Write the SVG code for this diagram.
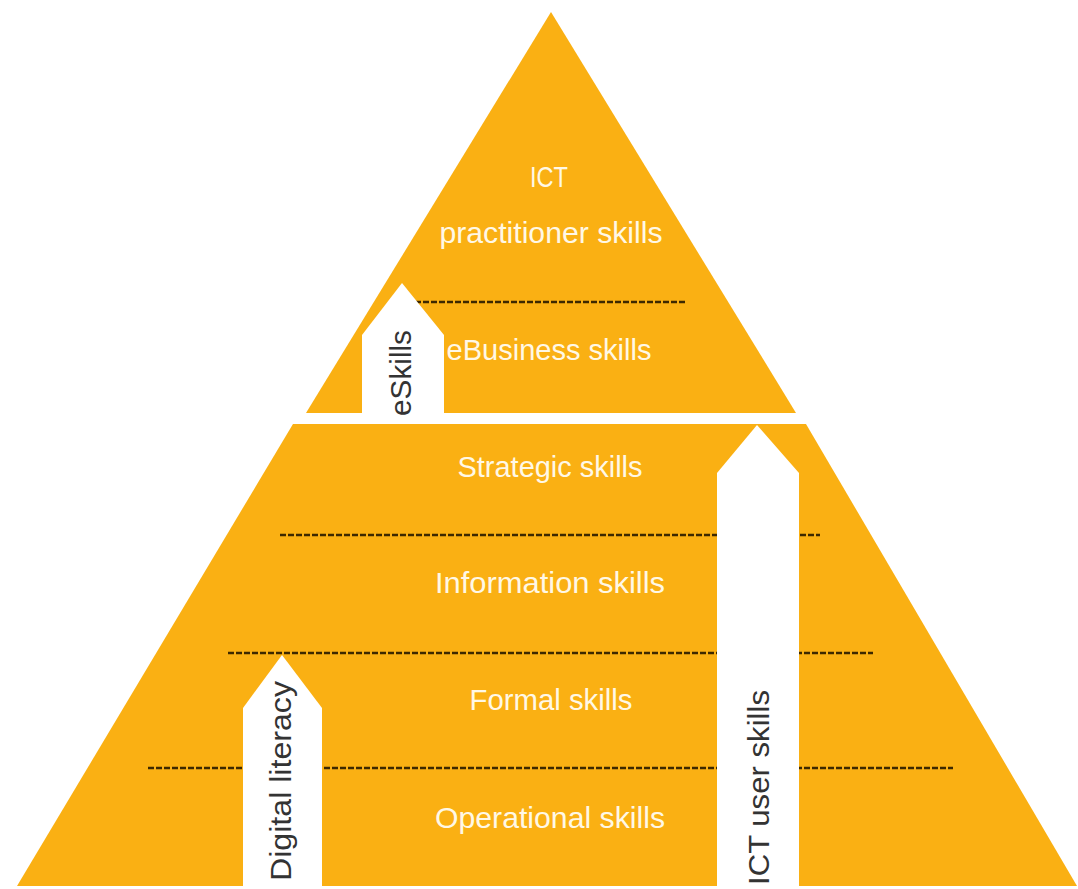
<svg xmlns="http://www.w3.org/2000/svg" width="1078" height="889" viewBox="0 0 1078 889">
<style>
.band{fill:#FAB013}
.arrow{fill:#FFFFFF}
.dash{stroke:#3d2800;stroke-width:2.5;stroke-dasharray:6 2;fill:none}
.lbl{font-family:"Liberation Sans",Arial,sans-serif;font-size:30px;fill:#FFF8E6;text-anchor:middle}
.vlbl{font-family:"Liberation Sans",Arial,sans-serif;font-size:29px;fill:#333333}
</style>
<rect width="1078" height="889" fill="#FFFFFF"/>
<g id="upper-triangle">
<polygon class="band" points="551,12 796,413 306,413"/>
</g>
<g id="lower-trapezoid">
<polygon class="band" points="293,424 806,424 1077,886 17,886"/>
</g>
<g id="connectors">
<line class="dash" x1="415" y1="302" x2="687" y2="302"/>
<line class="dash" x1="280" y1="535" x2="820" y2="535"/>
<line class="dash" x1="228" y1="653" x2="873" y2="653"/>
<line class="dash" x1="148" y1="768" x2="953" y2="768"/>
</g>
<g id="ict-practitioner">
<text class="lbl" x="549" y="187" textLength="38" lengthAdjust="spacingAndGlyphs">ICT</text>
<text class="lbl" x="551" y="243" textLength="223" lengthAdjust="spacingAndGlyphs">practitioner skills</text>
</g>
<g id="ebusiness">
<text class="lbl" x="549" y="360" textLength="205" lengthAdjust="spacingAndGlyphs">eBusiness skills</text>
</g>
<g id="strategic">
<text class="lbl" x="550" y="477" textLength="185" lengthAdjust="spacingAndGlyphs">Strategic skills</text>
</g>
<g id="information">
<text class="lbl" x="550" y="593" textLength="230" lengthAdjust="spacingAndGlyphs">Information skills</text>
</g>
<g id="formal">
<text class="lbl" x="551" y="710" textLength="163" lengthAdjust="spacingAndGlyphs">Formal skills</text>
</g>
<g id="operational">
<text class="lbl" x="550" y="828" textLength="230" lengthAdjust="spacingAndGlyphs">Operational skills</text>
</g>
<g id="eskills-arrow">
<polygon class="arrow" points="402,283 444,335 444,413 362,413 362,335"/>
<text class="vlbl" transform="translate(411,416) rotate(-90)" textLength="86" lengthAdjust="spacingAndGlyphs">eSkills</text>
</g>
<g id="digital-literacy-arrow">
<polygon class="arrow" points="282,655 322,708 322,886 243,886 243,708"/>
<text class="vlbl" transform="translate(291,881) rotate(-90)" textLength="200" lengthAdjust="spacingAndGlyphs">Digital literacy</text>
</g>
<g id="ict-user-arrow">
<polygon class="arrow" points="757,425 799,473 799,886 717,886 717,473"/>
<text class="vlbl" transform="translate(769,885) rotate(-90)" textLength="195" lengthAdjust="spacingAndGlyphs">ICT user skills</text>
</g>
</svg>
